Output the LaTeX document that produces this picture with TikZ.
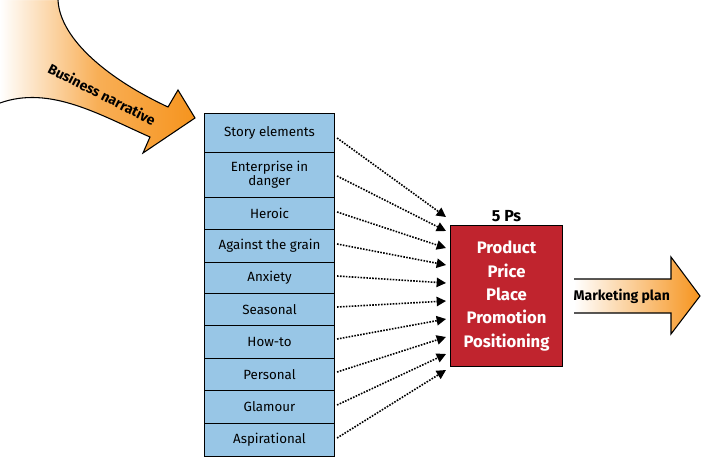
\documentclass[tikz,border=0pt]{standalone}
\usepackage{fontspec}
\setmainfont{Fira Sans}
\usetikzlibrary{arrows.meta}
\definecolor{lb}{RGB}{152,198,230}
\definecolor{rd}{RGB}{192,36,46}
\definecolor{og}{RGB}{246,148,30}
\begin{document}
\begin{tikzpicture}[x=0.75pt,y=-0.75pt,
  item/.style={draw,thick,fill=lb,minimum width=97.5pt,anchor=north west,inner sep=0pt,align=center,font=\fontsize{10}{10.5}\selectfont},
  con/.style={densely dotted,line width=1.2pt,-{Triangle[length=7pt,width=7pt]}}]
\useasboundingbox (0,0) rectangle (701,458);
% curved arrow
\shade[left color=white,right color=og,middle color=og!75,shading angle=90]
 (58,0) .. controls (60,40) and (110,80) .. (168,107) -- (178,90) -- (195,118) -- (143,153) -- (150,137)
 .. controls (100,115) and (50,85) .. (0,103) -- (0,0) -- cycle;
\fill[white] (0,0) -- (58,0) .. controls (60,40) and (110,80) .. (168,107) -- (200,0) -- cycle;
\draw[thick] (58,0) .. controls (60,40) and (110,80) .. (168,107) -- (178,90) -- (195,118) -- (143,153) -- (150,137)
 .. controls (100,115) and (50,85) .. (0,103);
\node[rotate=-27,font=\bfseries\fontsize{10.5}{10.5}\selectfont] (bn) at (102,94) {Business narrative};
% items
\foreach \n/\t/\b/\s in {a/113/152/Story elements,b/152/197/{Enterprise in\\danger},c/197/229/Heroic,d/229/262/Against the grain,e/262/293/Anxiety,f/293/325/Seasonal,g/325/358/How-to,h/358/390/Personal,i/390/423/Glamour,j/423/456/Aspirational}{
  \pgfmathsetmacro\hh{(\b-\t)*0.75}
  \node[item,minimum height=\hh pt] (\n) at (204,\t) {\s};
}
% red box
\node[draw,thick,fill=rd,text=white,minimum width=84pt,minimum height=105.75pt,anchor=north west,align=center,font=\bfseries\fontsize{12.5}{17.5}\selectfont] (p) at (450,225) {Product\\Price\\Place\\Promotion\\Positioning};
\node[font=\bfseries\fontsize{12}{12}\selectfont,anchor=south,inner sep=2pt] (ps) at (p.north) {5 Ps};
% dotted connectors
\foreach \n/\ya/\yb in {a/138/217,b/176/231,c/212/248,d/244/265,e/276/283,f/307/301,g/339/319,h/372/337,i/405/354,j/438/370}{
  \coordinate (t\n) at (446,\yb);
  \draw[con] (\n.east |- 0,\ya) ++(2,0) -- (t\n);
}
% marketing plan arrow
\shade[left color=white,right color=og,shading angle=90] (574,279) -- (671,279) -- (671,257) -- (700,296) -- (671,334) -- (671,313) -- (574,313) -- cycle;
\draw[thick] (574,279) -- (671,279) -- (671,257) -- (700,296) -- (671,334) -- (671,313) -- (574,313);
\node[font=\bfseries\fontsize{10.5}{10.5}\selectfont,anchor=west,inner sep=1pt] (mp) at (572,296) {Marketing plan};
\end{tikzpicture}
\end{document}
